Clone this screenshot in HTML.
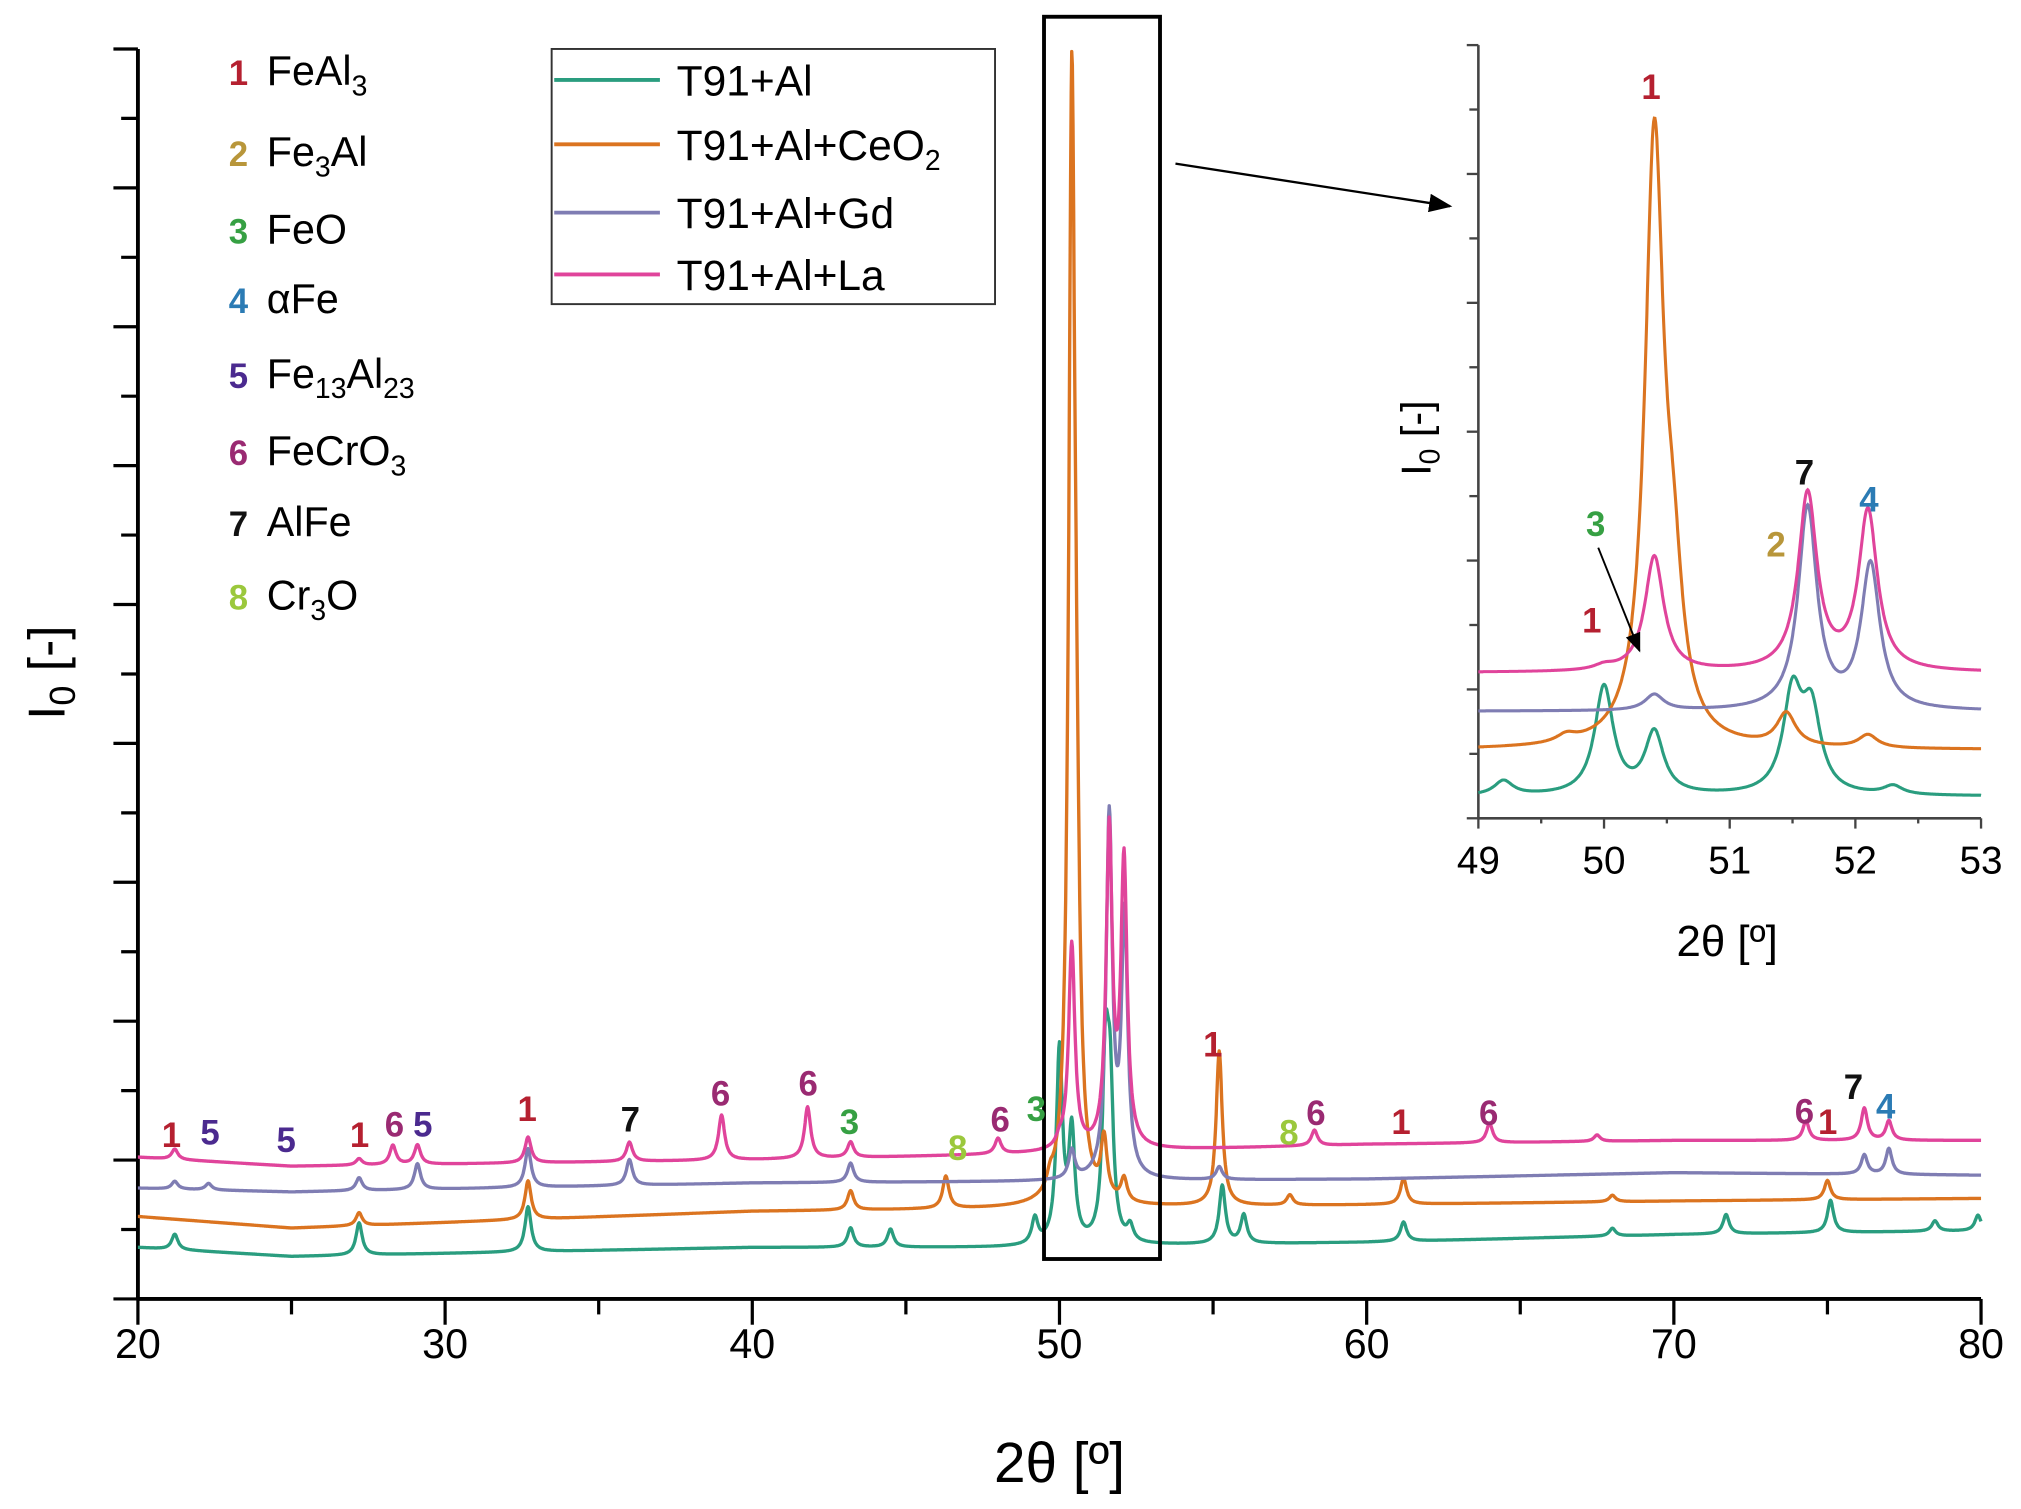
<!DOCTYPE html>
<html><head><meta charset="utf-8"><style>
html,body{margin:0;padding:0;background:#fff;}
svg{display:block;}
text{font-family:"Liberation Sans Narrow","Liberation Sans",sans-serif;}
.lbl{font-family:"Liberation Sans",sans-serif;font-weight:bold;font-size:27px;text-anchor:middle;}
</style></head><body>
<svg id="chart" width="2021" height="1509" viewBox="0 0 1568 1171" preserveAspectRatio="none" xmlns="http://www.w3.org/2000/svg">
<g id="main"></g><g id="inset"></g>
</svg>
<script>
// ---- data ----
const seriesNames = ["T91+Al","T91+Al+CeO2","T91+Al+Gd","T91+Al+La"];
const seriesColors = ["#2a9d7f","#db7420","#7f7db3","#e0449b"];
const baseX = [20,25,40,48,60,70,80];
const baseGreen = [40,33,40,40,44,50,53];
const baseOrange = [64,55,68,70,73,76,78];
const baseGd = [86,83,90,91,93,98,96];
const baseLa = [110,103,108,112,120,123,123];
const peaksGreenPos = [21.2,27.2,32.7,43.2,44.5,49.2,50.0,50.4,51.5,51.65,52.3,55.3,56.0,61.2,68,71.7,75.1,78.5,79.9];
const peaksGreenH = [12,25,35,15,14,20,150,85,135,110,12,45,22,15,6,15,25,8,12];
const peaksOrangePos = [27.2,32.7,43.2,46.3,49.7,50.4,50.55,51.45,52.1,55.2,57.5,61.2,68,75];
const peaksOrangeH = [10,30,15,25,10,830,170,45,18,120,8,20,5,15];
const peaksGdPos = [21.2,22.3,27.2,29.1,32.7,36,43.2,50.4,51.62,52.12,55.2,76.2,77.0];
const peaksGdH = [6,5,10,20,30,20,15,22,280,200,10,15,20];
const peaksLaPos = [21.2,27.2,28.3,29.1,32.7,36,39,41.8,43.2,48,50.0,50.4,51.62,52.1,58.3,64,67.5,74.3,76.2,77];
const peaksLaH = [8,5,15,15,20,15,35,40,12,12,6,160,245,220,12,15,5,15,25,15];
const mainXTicks = [20,30,40,50,60,70,80];
const insetXTicks = [49,50,51,52,53];

const NS="http://www.w3.org/2000/svg";
function el(tag,attrs,parent,txt){const e=document.createElementNS(NS,tag);for(const k in attrs)e.setAttribute(k,attrs[k]);if(txt!==undefined)e.textContent=txt;parent.appendChild(e);return e;}
function interp(xs,ys,x){if(x<=xs[0])return ys[0];for(let i=1;i<xs.length;i++){if(x<=xs[i]){const t=(x-xs[i-1])/(xs[i]-xs[i-1]);return ys[i-1]+t*(ys[i]-ys[i-1]);}}return ys[ys.length-1];}
const bases=[baseGreen,baseOrange,baseGd,baseLa];
const pPos=[peaksGreenPos,peaksOrangePos,peaksGdPos,peaksLaPos];
const pH=[peaksGreenH,peaksOrangeH,peaksGdH,peaksLaH];
function intensity(s,x,w){let v=interp(baseX,bases[s],x);const P=pPos[s],H=pH[s];for(let i=0;i<P.length;i++){const d=(x-P[i])/w;v+=H[i]/(1+d*d);}return v;}

// main axes
const X0=107,X1=1537,YB=1008,YT=38;
const xs=v=>X0+(v-20)/60*(X1-X0);
const ys=v=>YB-v*(YB-YT)/970;
const main=document.getElementById('main');
el('line',{x1:X0,y1:YB,x2:X1,y2:YB,stroke:'#000','stroke-width':3},main);
el('line',{x1:X0,y1:YB+1,x2:X0,y2:YT,stroke:'#000','stroke-width':3},main);
for(let k=0;k<=18;k++){const y=YB-k*(YB-YT)/18;el('line',{x1:k%2?94:88,y1:y,x2:X0,y2:y,stroke:'#000','stroke-width':2.5},main);}
for(let v=20;v<=80;v+=5){el('line',{x1:xs(v),y1:YB,x2:xs(v),y2:v%10?YB+12:YB+20,stroke:'#000','stroke-width':2.5},main);}
mainXTicks.forEach(v=>{const t=el('text',{x:xs(v),y:1054,'font-size':32,'text-anchor':'middle'},main,String(v));});
let t=el('text',{x:822,y:1150,'font-size':44,'text-anchor':'middle'},main,'2θ [º]');

t=el('text',{x:0,y:0,'font-size':40,'text-anchor':'middle',transform:'translate(50,522) rotate(-90)'},main);
t.innerHTML='I<tspan font-size="28" dy="8">0</tspan><tspan dy="-8"> [-]</tspan>';


for(let s=0;s<4;s++){let d='';for(let x=20;x<=80.0001;x+=0.02){d+=(d?'L':'M')+xs(x).toFixed(1)+','+ys(intensity(s,x,0.12)).toFixed(1);}
const p=el('path',{d:d,fill:'none',stroke:seriesColors[s],'stroke-width':2.6,'stroke-linejoin':'round'},main);
}

// zoom box + arrow
t=el('rect',{x:810,y:13,width:90,height:964,fill:'none',stroke:'#000','stroke-width':3},main);

el('defs',{},main).innerHTML='<marker id="ah" markerWidth="10" markerHeight="8" refX="9" refY="4" orient="auto"><path d="M0,0L10,4L0,8z" fill="#000"/></marker>';
el('line',{x1:912,y1:127,x2:1125,y2:160,stroke:'#000','stroke-width':1.8,'marker-end':'url(#ah)'},main);

// peak labels
const labelCols={1:'#b52030',2:'#b8963a',3:'#36a043',4:'#2b7bb4',5:'#4b2a8f',6:'#9a2a72',7:'#111',8:'#9bc83c'};
const mainLabels=[[1,133,880],[5,163,878],[5,222,884],[1,279,880],[6,306,872],[5,328,872],[1,409,860],[7,489,868],[6,559,848],[6,627,840],[3,659,870],[8,743,890],[6,776,868],[3,804,860],[1,941,810],[8,1000,878],[6,1021,863],[1,1087,870],[6,1155,863],[6,1400,862],[1,1418,870],[7,1438,843],[4,1463,858]];
mainLabels.forEach(l=>{const e=el('text',{x:l[1],y:l[2]+10,fill:labelCols[l[0]],class:'lbl'},main,String(l[0]));});

// phase list
const phases=[[1,'FeAl<tspan font-size="22" dy="8">3</tspan>'],[2,'Fe<tspan font-size="22" dy="8">3</tspan><tspan dy="-8">Al</tspan>'],[3,'FeO'],[4,'αFe'],[5,'Fe<tspan font-size="22" dy="8">13</tspan><tspan dy="-8">Al</tspan><tspan font-size="22" dy="8">23</tspan>'],[6,'FeCrO<tspan font-size="22" dy="8">3</tspan>'],[7,'AlFe'],[8,'Cr<tspan font-size="22" dy="8">3</tspan><tspan dy="-8">O</tspan>']];
const phY=[55,118,178,232,290,350,405,462];
phases.forEach((p,i)=>{const g=el('g',{},main);
el('text',{x:185,y:phY[i]+11,fill:labelCols[p[0]],class:'lbl','font-size':30},g,String(p[0]));
el('text',{x:207,y:phY[i]+11,'font-size':32},g).innerHTML=p[1];});

// legend
const lg=el('g',{},main);
el('rect',{x:428,y:38,width:344,height:198,fill:'#fff',stroke:'#333','stroke-width':1.5},lg);
const lgY=[62,112,165,213];const lgT=['T91+Al','T91+Al+CeO<tspan font-size="22" dy="8">2</tspan>','T91+Al+Gd','T91+Al+La'];
lgT.forEach((s,i)=>{const g=el('g',{},lg);
el('line',{x1:430,y1:lgY[i],x2:512,y2:lgY[i],stroke:seriesColors[i],'stroke-width':3},g);
el('text',{x:525,y:lgY[i]+12,'font-size':33},g).innerHTML=s;});

// inset
const inset=document.getElementById('inset');
const IX0=1147,IX1=1537,IYB=635,IYT=35;
const ixs=v=>IX0+(v-49)/4*(IX1-IX0);
const k=0.56;const insetBase=[618,582,552,522];
el('line',{x1:IX0,y1:IYB,x2:IX1,y2:IYB,stroke:'#444','stroke-width':2},inset);
el('line',{x1:IX0,y1:IYB,x2:IX0,y2:IYT,stroke:'#444','stroke-width':2},inset);
for(let j=0;j<=12;j++){const y=IYB-j*50;el('line',{x1:j%2?1140:1138,y1:y,x2:IX0,y2:y,stroke:'#444','stroke-width':1.8},inset);}
for(let v=49;v<=53;v+=0.5){el('line',{x1:ixs(v),y1:IYB,x2:ixs(v),y2:IYB+(v%1?4:8),stroke:'#444','stroke-width':1.8},inset);}
insetXTicks.forEach(v=>{const e=el('text',{x:ixs(v),y:678,'font-size':30,'text-anchor':'middle','font-family':'Liberation Sans, sans-serif'},inset,String(v));});
t=el('text',{x:1340,y:742,'font-size':34,'text-anchor':'middle','font-family':'Liberation Sans, sans-serif'},inset,'2θ [º]');
t=el('text',{x:0,y:0,'font-size':32,'text-anchor':'middle','font-family':'Liberation Sans, sans-serif',transform:'translate(1110,340) rotate(-90)'},inset);
t.innerHTML='I<tspan font-size="22" dy="7">0</tspan><tspan dy="-7"> [-]</tspan>';
for(let s=0;s<4;s++){let d='';for(let x=49;x<=53.0001;x+=0.005){const b=interp(baseX,bases[s],x);const v=intensity(s,x,0.09)-b;d+=(d?'L':'M')+ixs(x).toFixed(1)+','+(insetBase[s]-v*k).toFixed(1);}
const p=el('path',{d:d,fill:'none',stroke:seriesColors[s],'stroke-width':2.4},inset);}
const insetLabels=[[1,1281,67],[7,1400,366],[4,1450,387],[3,1238,406],[2,1378,422],[1,1235,481]];
insetLabels.forEach(l=>{const e=el('text',{x:l[1],y:l[2]+10,fill:labelCols[l[0]],class:'lbl'},inset,String(l[0]));});
el('line',{x1:1240,y1:425,x2:1272,y2:505,stroke:'#000','stroke-width':1.5,'marker-end':'url(#ah)'},inset);
</script>
</body></html>
